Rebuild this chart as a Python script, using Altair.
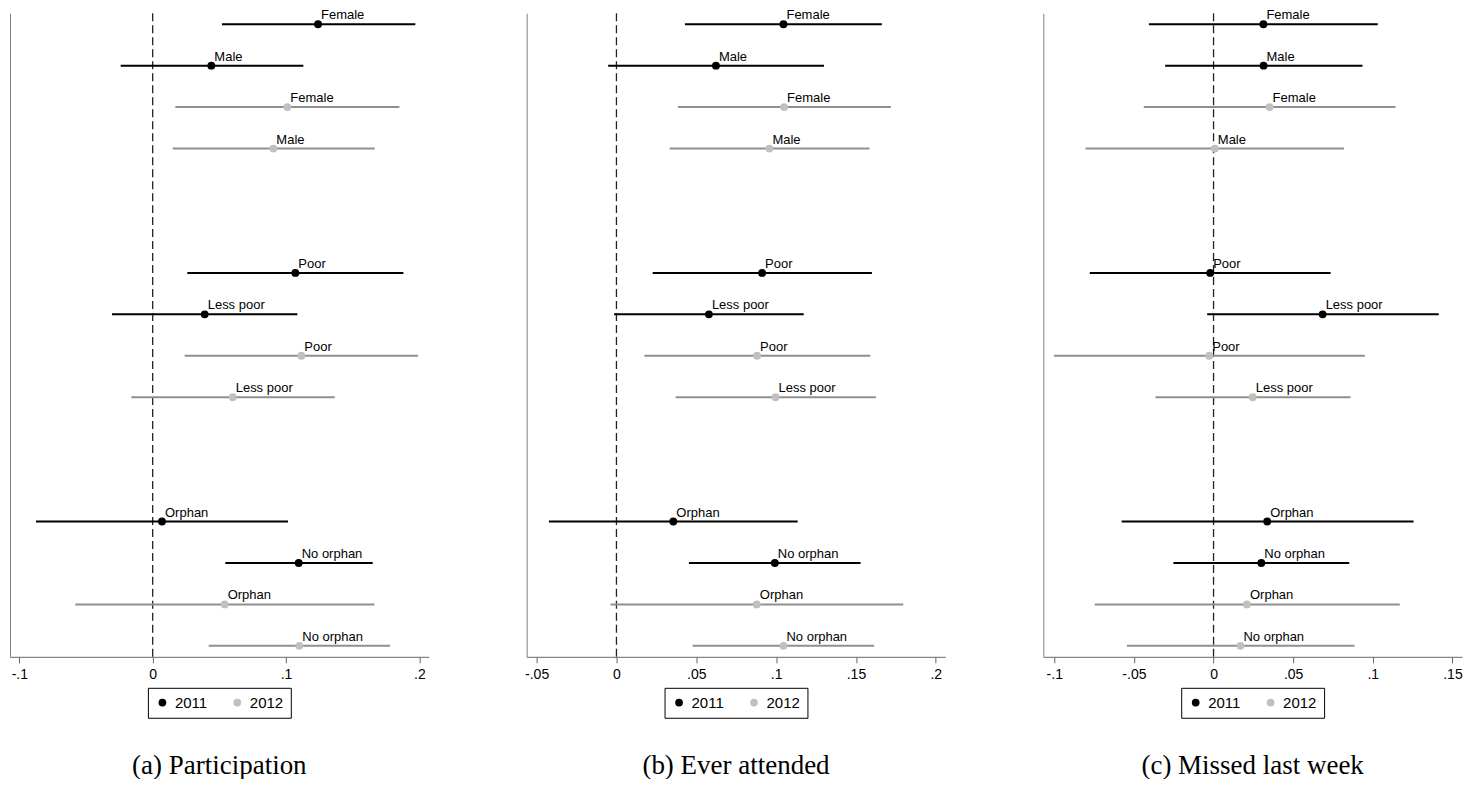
import altair as alt
import pandas as pd

# ---- data -------------------------------------------------------------
labels = ["Female", "Male", "Female", "Male",
          "Poor", "Less poor", "Poor", "Less poor",
          "Orphan", "No orphan", "Orphan", "No orphan"]
years = ["2011", "2011", "2012", "2012",
         "2011", "2011", "2012", "2012",
         "2011", "2011", "2012", "2012"]
groups = [0, 0, 0, 0, 1, 1, 1, 1, 2, 2, 2, 2]

part_est = [0.124, 0.044, 0.101, 0.0905, 0.107, 0.039, 0.1115, 0.060, 0.007, 0.1095, 0.054, 0.110]
part_lo = [0.052, -0.024, 0.017, 0.015, 0.026, -0.0305, 0.024, -0.016, -0.0875, 0.0545, -0.058, 0.042]
part_hi = [0.197, 0.113, 0.185, 0.1665, 0.188, 0.1085, 0.199, 0.1365, 0.1015, 0.165, 0.1663, 0.178]

att_est = [0.1046, 0.0623, 0.105, 0.0958, 0.0912, 0.0579, 0.0881, 0.0996, 0.0356, 0.0992, 0.0879, 0.1046]
att_lo = [0.0429, -0.0052, 0.0385, 0.0333, 0.0227, -0.0015, 0.0175, 0.0371, -0.0423, 0.0454, -0.0037, 0.0477]
att_hi = [0.1662, 0.130, 0.1719, 0.1585, 0.160, 0.1173, 0.159, 0.1625, 0.1135, 0.1529, 0.1796, 0.1614]

miss_est = [0.0313, 0.0314, 0.0352, 0.0008, -0.0021, 0.0685, -0.0027, 0.0246, 0.0337, 0.030, 0.021, 0.0169]
miss_lo = [-0.0406, -0.0304, -0.0438, -0.0804, -0.0777, -0.004, -0.1002, -0.0365, -0.0577, -0.0252, -0.0746, -0.0544]
miss_hi = [0.1031, 0.0935, 0.1142, 0.0819, 0.0735, 0.1414, 0.095, 0.086, 0.1256, 0.0852, 0.1169, 0.0885]

ticks_a = [-0.1, 0, 0.1, 0.2]
ticks_b = [-0.05, 0, 0.05, 0.1, 0.15, 0.2]
ticks_c = [-0.1, -0.05, 0, 0.05, 0.1, 0.15]

titles = ["(a) Participation", "(b) Ever attended", "(c) Missed last week"]

# ---- helpers ----------------------------------------------------------
SANS = "Liberation Sans"
SERIF = "Liberation Serif"
W = 419
H = 644

label_expr = ("datum.value == 0 ? '0' : (datum.value < 0 ? '-' : '') + "
              "substring(format(abs(datum.value), '.2~f'), 1)")


def panel(est, lo, hi, domain, ticks, title):
    slots = []
    counts = {}
    for g in groups:
        k = counts.get(g, 0)
        counts[g] = k + 1
        slots.append(g * 6 + k)
    df = pd.DataFrame({"label": labels, "year": years, "line_year": years,
                       "slot": slots, "est": est, "lo": lo, "hi": hi})
    xs = alt.Scale(domain=domain, nice=False, zero=False)
    ys = alt.Scale(domain=[-0.265, 15.265], reverse=True, nice=False, zero=False)
    xaxis = alt.Axis(values=ticks, labelExpr=label_expr, tickSize=6, labelPadding=5,
                     domainColor="#666666", tickColor="#666666", labelColor="black",
                     labelFont=SANS, labelFontSize=14, grid=False, title=None,
                     labelFlush=False, labelOverlap=False)
    yaxis = alt.Axis(labels=False, ticks=False, title=None, grid=False,
                     domainColor="#808080", domainWidth=1)
    base = alt.Chart(df)
    zero = alt.Chart(pd.DataFrame({"z": [0]})).mark_rule(
        color="#222222", strokeWidth=1.3, strokeDash=[8, 4]
    ).encode(x=alt.X("z:Q", scale=xs, axis=xaxis))
    rules = base.mark_rule(strokeWidth=2).encode(
        x=alt.X("lo:Q", scale=xs, axis=xaxis),
        x2="hi:Q",
        y=alt.Y("slot:Q", scale=ys, axis=yaxis),
        stroke=alt.Stroke("line_year:N", scale=alt.Scale(range=["#000000", "#8f8f8f"]),
                          legend=None),
    )
    pts = base.mark_circle(size=62, opacity=1).encode(
        x=alt.X("est:Q", scale=xs),
        y=alt.Y("slot:Q", scale=ys),
        color=alt.Color("year:N", scale=alt.Scale(domain=["2011", "2012"],
                                                    range=["#000000", "#c0c0c0"]),
                        legend=alt.Legend(orient="none", legendX=138, legendY=675,
                                          direction="horizontal", title=None,
                                          strokeColor="black", fillColor="white",
                                          padding=7, symbolType="circle", symbolSize=60,
                                          symbolStrokeWidth=0, symbolOpacity=1,
                                          labelFont=SANS, labelFontSize=15,
                                          labelColor="black", labelOffset=5,
                                          columnPadding=22)),
    )
    txt = base.mark_text(align="left", baseline="alphabetic", dx=3, dy=-5,
                         font=SANS, fontSize=13, color="black").encode(
        x=alt.X("est:Q", scale=xs),
        y=alt.Y("slot:Q", scale=ys),
        text="label:N",
    )
    ttl = alt.Chart(pd.DataFrame({"t": [title]})).mark_text(
        font=SERIF, fontSize=27, align="center", baseline="alphabetic", color="black"
    ).encode(text="t:N", x=alt.value(W / 2), y=alt.value(761))
    return alt.layer(zero, rules, pts, txt, ttl).properties(width=W, height=H)


pa = panel(part_est, part_lo, part_hi, [-0.107, 0.207], ticks_a, titles[0])
pb = panel(att_est, att_lo, att_hi, [-0.05625, 0.206], ticks_b, titles[1])
pc = panel(miss_est, miss_lo, miss_hi, [-0.1069, 0.156], ticks_c, titles[2])

chart = alt.hconcat(pa, pb, pc, spacing=98, bounds="flush").resolve_scale(
    color="independent", stroke="independent"
).resolve_legend(
    color="independent"
).properties(
    padding={"left": 2, "top": 0, "right": 0, "bottom": 0},
    background="white",
).configure_view(stroke=None, strokeWidth=0)

chart.save("out.html", embed_options={"renderer": "svg", "actions": False})
